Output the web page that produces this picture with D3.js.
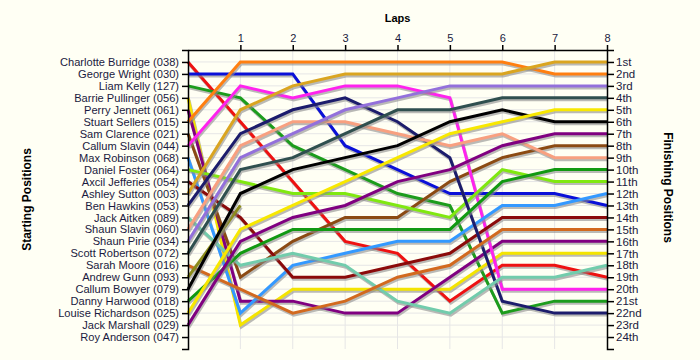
<!DOCTYPE html>
<html>
<head>
<meta charset="utf-8">
<script src="https://cdn.jsdelivr.net/npm/d3@7"></script>
<style>
  body { margin: 0; background: #fffff4; }
  svg text { font-family: "Liberation Sans", Arial, sans-serif; }
</style>
</head>
<body>
<div id="chart"></div>
<script>
const width = 700,
  height = 360;

// DATA
const drivers = ["Charlotte Burridge (038)", "George Wright (030)", "Liam Kelly (127)", "Barrie Pullinger (056)",
  "Perry Jennett (061)", "Stuart Sellers (015)", "Sam Clarence (021)", "Callum Slavin (044)", "Max Robinson (068)",
  "Daniel Foster (064)", "Axcil Jefferies (054)", "Ashley Sutton (003)", "Ben Hawkins (053)", "Jack Aitken (089)",
  "Shaun Slavin (060)", "Shaun Pirie (034)", "Scott Robertson (072)", "Sarah Moore (016)", "Andrew Gunn (093)",
  "Callum Bowyer (079)", "Danny Harwood (018)", "Louise Richardson (025)", "Jack Marshall (029)", "Roy Anderson (047)"];

const laps = [0, 1, 2, 3, 4, 5, 6, 7, 8];

const finishLabels = ["1st", "2nd", "3rd", "4th", "5th", "6th", "7th", "8th", "9th", "10th", "11th", "12th",
  "13th", "14th", "15th", "16th", "17th", "18th", "19th", "20th", "21st", "22nd", "23rd", "24th"];

// positions lap 0..8 (lap 0 = grid)
const positions = [
  [1, 6, 11, 16, 17, 21, 18, 18, 19],
  [2, 2, 2, 8, 10, 12, 12, 12, 13],
  [3, 4, 8, 10, 12, 13, 22, 21, 21],
  [4, 23, 20, 20, 20, 20, 17, 17, 17],
  [5, 21, 21, 22, 22, 19, 16, 16, 16],
  [6, 1, 1, 1, 1, 1, 1, 2, 2],
  [7, 19, 16, 14, 14, 11, 9, 8, 8],
  [8, 3, 4, 3, 3, 4, 20, 20, 20],
  [9, 22, 18, 17, 16, 16, 13, 13, 12],
  [10, 11, 12, 12, 13, 14, 10, 11, 11],
  [11, 14, 19, 19, 18, 17, 14, 14, 14],
  [12, 5, 3, 2, 2, 2, 2, 1, 1],
  [13, 7, 5, 4, 6, 9, 21, 22, 22],
  [14, 18, 17, 18, 21, 22, 19, 19, 18],
  [15, 8, 6, 6, 7, 8, 7, 9, 9],
  [16, 9, 7, 5, 4, 3, 3, 3, 3],
  [17, 10, 9, 7, 5, 5, 4, 4, 4],
  [18, 20, 22, 21, 19, 18, 15, 15, 15],
  [19, 13],
  [20, 12, 10, 9, 8, 6, 5, 6, 6],
  [21, 17, 15, 15, 15, 15, 11, 10, 10],
  [22, 15, 13, 11, 9, 7, 6, 5, 5],
  [23, 16, 14, 13, 11, 10, 8, 7, 7],
  []
];

const colors = ["#ee1111", "#0a10d8", "#1c9c1c", "#f4e400", "#800080", "#ff7f10", "#8b4a13", "#ff22ee",
  "#3399ff", "#80e810", "#8b0a0a", "#daa520", "#1c1c6c", "#72ccac", "#f8a080", "#9370db",
  "#2f4f4f", "#d2691e", "#8b8b1a", "#000000", "#119911", "#f8e800", "#800080", "#888888"];

const margin = { top: 50, left: 188, right: 93, bottom: 11 };

const svg = d3.select("#chart")
  .append("svg")
  .attr("width", width)
  .attr("height", height);

// SCALES
const x = d3.scaleLinear()
  .domain([0, 8])
  .range([margin.left, width - margin.right]);

const y = d3.scaleLinear()
  .domain([0, 25])
  .range([margin.top, height - margin.bottom]);

// GRID
svg.append("g")
  .selectAll("line")
  .data(d3.range(1, 25))
  .join("line")
  .attr("x1", x(0))
  .attr("x2", x(8))
  .attr("y1", d => y(d))
  .attr("y2", d => y(d))
  .attr("stroke", "#e6e6e6");

svg.append("g")
  .selectAll("line")
  .data(laps.slice(1, 8))
  .join("line")
  .attr("x1", d => x(d))
  .attr("x2", d => x(d))
  .attr("y1", y(0))
  .attr("y2", y(25))
  .attr("stroke", "#e6e6e6");

// LINES
const line = d3.line()
  .x((d, i) => x(i))
  .y(d => y(d));

const series = svg.append("g")
  .selectAll("g")
  .data(positions)
  .join("g");

// shadow
series.append("path")
  .attr("d", d => d.length > 1 ? line(d) : null)
  .attr("transform", "translate(1,2)")
  .attr("fill", "none")
  .attr("stroke", "#8c8c8c")
  .attr("stroke-opacity", 0.6)
  .attr("stroke-width", 3);

series.append("path")
  .attr("d", d => d.length > 1 ? line(d) : null)
  .attr("fill", "none")
  .attr("stroke", (d, i) => colors[i])
  .attr("stroke-width", 3);

// AXES
const leftAxis = d3.axisLeft(y)
  .tickValues(d3.range(1, 25))
  .tickFormat(d => drivers[d - 1])
  .tickSize(6)
  .tickPadding(3);

const rightAxis = d3.axisRight(y)
  .tickValues(d3.range(1, 25))
  .tickFormat(d => finishLabels[d - 1])
  .tickSize(7)
  .tickPadding(2);

const topAxis = d3.axisTop(x)
  .tickValues(laps.slice(1))
  .tickSize(5)
  .tickSizeOuter(0)
  .tickPadding(3);

function styleAxis(g) {
  g.selectAll("path, line").attr("stroke", "#000").attr("stroke-width", 1.5);
  g.selectAll("text").attr("font-size", 11.1).attr("fill", "#1a1a40");
}

svg.append("g")
  .attr("transform", `translate(${x(0)},0)`)
  .call(leftAxis)
  .call(styleAxis);

svg.append("g")
  .attr("transform", `translate(${x(8)},0)`)
  .call(rightAxis)
  .call(styleAxis)
  .call(g => g.selectAll("text").attr("font-size", 11.5));

svg.append("g")
  .attr("transform", `translate(0,${y(0)})`)
  .call(topAxis)
  .call(styleAxis)
  .call(g => g.selectAll("text").attr("font-size", 11));

// TITLES
svg.append("text")
  .attr("x", (x(0) + x(8)) / 2)
  .attr("y", 22)
  .attr("text-anchor", "middle")
  .attr("font-size", 11)
  .attr("font-weight", "bold")
  .text("Laps");

svg.append("text")
  .attr("transform", `translate(31,${(y(0) + y(25)) / 2}) rotate(-90)`)
  .attr("text-anchor", "middle")
  .attr("font-size", 12)
  .attr("font-weight", "bold")
  .text("Starting Positions");

svg.append("text")
  .attr("transform", `translate(664,${(y(0) + y(25)) / 2 - 12}) rotate(90)`)
  .attr("text-anchor", "middle")
  .attr("font-size", 12)
  .attr("font-weight", "bold")
  .text("Finishing Positions");
</script>
</body>
</html>
